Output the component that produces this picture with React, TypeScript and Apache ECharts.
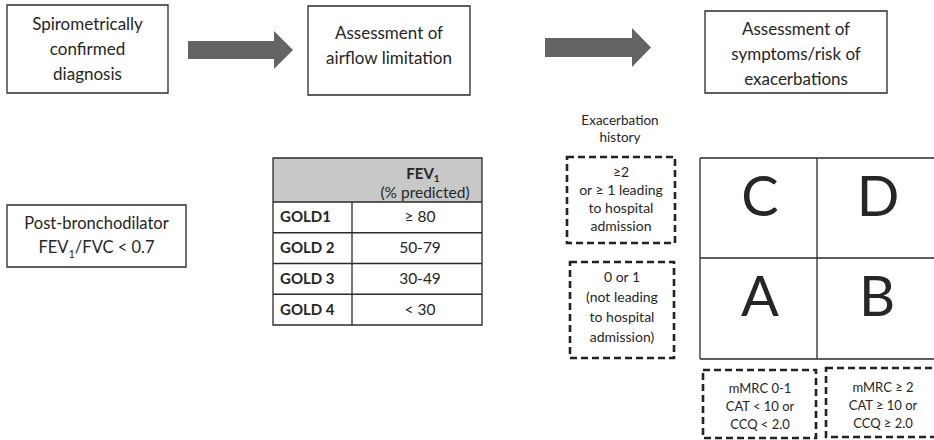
import React, { useEffect, useRef } from "react";
import * as echarts from "echarts";

// ---- content ----
const flowSteps: string[] = [
  "Spirometrically\nconfirmed\ndiagnosis",
  "Assessment of\nairflow limitation",
  "Assessment of\nsymptoms/risk of\nexacerbations",
];
const spirometryCriterion: string[] = ["Post-bronchodilator", "FEV", "1", "/FVC < 0.7"];
const tableHeader: string[] = ["FEV", "1", "(% predicted)"];
const goldGrades: string[] = ["GOLD1", "GOLD 2", "GOLD 3", "GOLD 4"];
const fev1Ranges: string[] = ["≥ 80", "50-79", "30-49", "< 30"];
const historyTitle = "Exacerbation\nhistory";
const exacerbationHistory: string[] = [
  "≥2\nor ≥ 1 leading\nto hospital\nadmission",
  "0 or 1\n(not leading\nto hospital\nadmission)",
];
const groups: string[] = ["C", "D", "A", "B"];
const symptomCriteria: string[] = [
  "mMRC 0-1\nCAT < 10 or\nCCQ < 2.0",
  "mMRC ≥ 2\nCAT ≥ 10 or\nCCQ ≥ 2.0",
];

const FONT = "Lato, 'Open Sans', sans-serif";
const TXT = "#262626";
const LINE = "#2a2a2a";

function App() {
  const ref = useRef<HTMLDivElement>(null);
  useEffect(() => {
    if (!ref.current) return;
    const chart = echarts.init(ref.current, null, { renderer: "svg" });
    const g: any[] = [];

    const text = (x: number, y: number, t: string, opts: any = {}) => {
      g.push({
        type: "text",
        x,
        y,
        style: {
          text: t,
          fill: TXT,
          fontFamily: FONT,
          fontSize: 17,
          align: "center",
          verticalAlign: "middle",
          ...opts,
        },
      });
    };
    const rect = (x: number, y: number, w: number, h: number, style: any = {}) => {
      g.push({
        type: "rect",
        shape: { x, y, width: w, height: h },
        style: { fill: "none", stroke: LINE, lineWidth: 1.3, ...style },
      });
    };
    const line = (x1: number, y1: number, x2: number, y2: number, lw = 1.3) => {
      g.push({
        type: "line",
        shape: { x1, y1, x2, y2 },
        style: { stroke: LINE, lineWidth: lw },
      });
    };
    const dashed = { lineDash: [7, 4], lineWidth: 2.6, stroke: "#222" };

    // top flow boxes
    const boxes = [
      { x: 7, y: 5, w: 161, h: 88, cy: 48 },
      { x: 308, y: 6, w: 162, h: 89, cy: 45 },
      { x: 705, y: 11, w: 182, h: 82, cy: 53 },
    ];
    boxes.forEach((b, i) => {
      rect(b.x, b.y, b.w, b.h);
      text(b.x + b.w / 2, b.cy, flowSteps[i], { lineHeight: 25 });
    });

    // arrows
    const arrows = [
      { x0: 188, x1: 274, x2: 293, cy: 50, sh: 9, hh: 19 },
      { x0: 545, x1: 632, x2: 651, cy: 47.5, sh: 9.5, hh: 19.5 },
    ];
    arrows.forEach((a) => {
      g.push({
        type: "polygon",
        shape: {
          points: [
            [a.x0, a.cy - a.sh],
            [a.x1, a.cy - a.sh],
            [a.x1, a.cy - a.hh],
            [a.x2, a.cy],
            [a.x1, a.cy + a.hh],
            [a.x1, a.cy + a.sh],
            [a.x0, a.cy + a.sh],
          ],
        },
        style: { fill: "#646464", stroke: "none" },
      });
    });

    // post-bronchodilator box
    rect(7, 205, 179, 62);
    text(96.5, 235, `${spirometryCriterion[0]}\n${spirometryCriterion[1]}{sub|${spirometryCriterion[2]}}${spirometryCriterion[3]}`, {
      fontSize: 16.5,
      lineHeight: 24,
      rich: {
        sub: { fontSize: 11, lineHeight: 15, verticalAlign: "bottom", fontFamily: FONT, fill: TXT },
      },
    });

    // GOLD table
    const tx = 273, ty = 158, tw = 209, hh = 44, rowH = 30.75, colX = 352;
    g.push({
      type: "rect",
      shape: { x: tx, y: ty, width: tw, height: hh },
      style: { fill: "#c8c8c8", stroke: "none" },
    });
    rect(tx, ty, tw, hh + rowH * goldGrades.length);
    line(tx, ty + hh, tx + tw, ty + hh);
    for (let i = 1; i < goldGrades.length; i++) {
      line(tx, ty + hh + rowH * i, tx + tw, ty + hh + rowH * i);
    }
    line(colX, ty + hh, colX, ty + hh + rowH * goldGrades.length);
    text(423, 173, `{b|${tableHeader[0]}}{bs|${tableHeader[1]}}`, {
      fontSize: 15,
      rich: {
        b: { fontSize: 15, fontWeight: "bold", lineHeight: 20, fontFamily: FONT, fill: TXT },
        bs: { fontSize: 10, fontWeight: "bold", lineHeight: 13, verticalAlign: "bottom", fontFamily: FONT, fill: TXT },
      },
    });
    text(425, 192, tableHeader[2], { fontSize: 15.5 });
    goldGrades.forEach((gName, i) => {
      const cy = ty + hh + rowH * i + rowH / 2 - 1;
      text(280, cy, gName, { fontSize: 15, fontWeight: "bold", align: "left" });
      text(420, cy, fev1Ranges[i], { fontSize: 15.5 });
    });

    // exacerbation history
    text(620, 128.5, historyTitle, { fontSize: 13.5, lineHeight: 17 });
    rect(567, 157, 108, 86, dashed);
    text(621, 198.5, exacerbationHistory[0], { fontSize: 14, lineHeight: 17.7 });
    rect(570, 262, 104, 96, dashed);
    text(622, 306.5, exacerbationHistory[1], { fontSize: 14, lineHeight: 19.7 });

    // ABCD grid
    const gx = 700, gy = 158, midX = 817, midY = 258, gb = 359, gr = 936;
    line(gx, gy, gr, gy);
    line(gx, midY, gr, midY);
    line(gx, gb, gr, gb);
    line(gx, gy, gx, gb);
    line(midX, gy, midX, gb);
    const centers = [
      [760, 198],
      [878, 198],
      [760, 298],
      [877, 298],
    ];
    groups.forEach((l, i) => {
      text(centers[i][0], centers[i][1] - 4, l, { fontSize: 56 });
    });

    // symptom criteria
    rect(703, 370, 113, 68, dashed);
    text(760, 406, symptomCriteria[0], { fontSize: 13, lineHeight: 18 });
    rect(826, 368, 120, 69, dashed);
    text(883, 404.5, symptomCriteria[1], { fontSize: 13, lineHeight: 18 });

    chart.setOption({
      animation: false,
      backgroundColor: "#ffffff",
      graphic: { elements: g },
    });
    return () => chart.dispose();
  }, []);
  return (
    <div
      ref={ref}
      style={{ position: "fixed", left: 0, top: 0, width: 934, height: 440, background: "#fff" }}
    />
  );
}

export default App;
